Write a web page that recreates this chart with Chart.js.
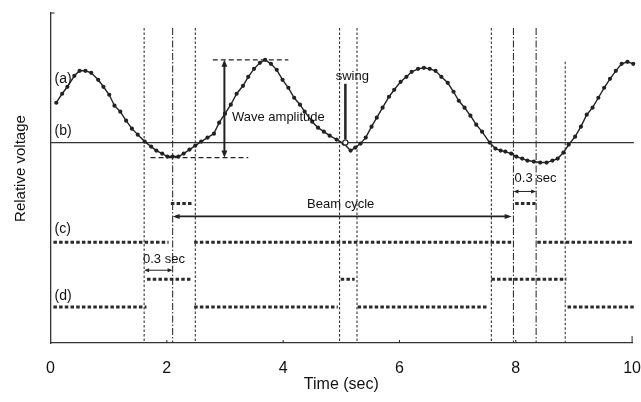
<!DOCTYPE html>
<html>
<head>
<meta charset="utf-8">
<script src="https://cdn.jsdelivr.net/npm/chart.js@4/dist/chart.umd.min.js"></script>
<style>
  body { margin: 0; background: #fff; }
</style>
</head>
<body>
<canvas id="chart" width="641" height="402"></canvas>
<script>
  // wave (a): time (sec) and relative voltage
  const waveTime = [0.10, 0.20, 0.29, 0.41, 0.50, 0.60, 0.70, 0.82, 0.91, 1.01,
    1.10, 1.20, 1.30, 1.40, 1.50, 1.62, 1.73, 1.82, 1.92, 2.01,
    2.10, 2.20, 2.29, 2.39, 2.49, 2.59, 2.70, 2.81, 2.90, 3.00,
    3.10, 3.20, 3.31, 3.40, 3.50, 3.60, 3.69, 3.79, 3.89, 3.99,
    4.09, 4.19, 4.29, 4.37, 4.50, 4.60, 4.70, 4.80, 4.92, 5.04,
    5.16, 5.24, 5.33, 5.42, 5.52, 5.61, 5.71, 5.82, 5.91, 6.02,
    6.12, 6.21, 6.32, 6.42, 6.52, 6.62, 6.72, 6.83, 6.93, 7.02,
    7.12, 7.22, 7.32, 7.42, 7.55, 7.65, 7.74, 7.82, 7.92, 8.01,
    8.11, 8.20, 8.31, 8.42, 8.53, 8.63, 8.72, 8.82, 8.91, 9.02,
    9.12, 9.22, 9.32, 9.42, 9.52, 9.62, 9.72, 9.82, 9.92, 10.02, 10.09];
  const waveValue = [4.0, 4.9, 5.6, 6.7, 7.2, 7.2, 7.0, 6.3, 5.6, 4.8,
    3.7, 3.1, 2.2, 1.4, 0.8, 0.1, -0.4, -0.8, -1.1, -1.4,
    -1.4, -1.4, -1.1, -0.7, -0.3, 0.1, 0.5, 0.9, 2.0, 2.9,
    3.8, 4.9, 5.7, 6.6, 7.4, 8.0, 8.3, 7.9, 7.3, 6.3,
    5.5, 4.5, 3.8, 3.1, 2.1, 1.5, 1.1, 0.7, 0.3, -0.1,
    -0.8, -0.5, -0.1, 0.5, 1.6, 2.5, 3.5, 4.6, 5.3, 6.1,
    6.6, 7.1, 7.4, 7.5, 7.4, 7.2, 6.6, 6.0, 5.1, 4.2,
    3.5, 2.7, 1.8, 1.1, 0.0, -0.6, -0.8, -0.9, -1.1, -1.4,
    -1.6, -1.8, -1.9, -2.0, -2.0, -1.8, -1.6, -1.0, -0.2, 0.6,
    1.6, 2.8, 3.5, 4.5, 5.5, 6.4, 7.2, 7.9, 8.1, 7.9, 7.5];

  // threshold (b)
  const baselineTime = [0, 10.03];
  const baselineValue = [0, 0];

  // gate signal (c): segments
  const cStart = [0.05, 2.07, 2.47, 7.99, 8.37];
  const cEnd   = [2.03, 2.45, 7.93, 8.34, 10.03];
  const cLevel = [-10.0, -6.1, -10.0, -6.1, -10.0];

  // beam signal (d): segments
  const dStart = [0.05, 1.66, 2.47, 4.99, 5.28, 7.58, 8.89];
  const dEnd   = [1.65, 2.44, 4.94, 5.23, 7.51, 8.87, 10.03];
  const dLevel = [-16.5, -13.7, -16.5, -13.7, -16.5, -13.7, -16.5];

  // vertical marker lines
  const dottedTimes = [1.61, 2.49, 4.97, 5.27, 7.58, 8.85];
  const dottedTop   = [11.5, 11.5, 11.5, 11.5, 11.5, 8.1];
  const dashDotTimes = [2.10, 7.96, 8.35];
  const dashDotTop   = [11.5, 11.5, 11.5];

  const xTicks = [0, 2, 4, 6, 8, 10];
  const yMin = -20.1, yMax = 13;

  const ink = '#222';
  const font = '"Liberation Sans", Arial, Helvetica, sans-serif';

  const datasets = [];

  datasets.push({
    label: '(a)',
    data: waveTime.map((t, i) => ({ x: t, y: waveValue[i] })),
    borderColor: ink,
    borderWidth: 1.4,
    pointRadius: 2.1,
    pointBackgroundColor: ink,
    pointBorderWidth: 0,
    clip: false
  });

  datasets.push({
    label: '(b)',
    data: baselineTime.map((t, i) => ({ x: t, y: baselineValue[i] })),
    borderColor: '#333',
    borderWidth: 1.4,
    pointRadius: 0,
    clip: false
  });

  function addSteps(starts, ends, levels, name) {
    starts.forEach((s, i) => {
      datasets.push({
        label: name,
        data: [{ x: s, y: levels[i] }, { x: ends[i], y: levels[i] }],
        borderColor: '#2a2a2a',
        borderWidth: 3,
        borderDash: [3.5, 2.2],
        borderCapStyle: 'butt',
        pointRadius: 0,
        clip: false
      });
    });
  }
  addSteps(cStart, cEnd, cLevel, '(c)');
  addSteps(dStart, dEnd, dLevel, '(d)');

  dottedTimes.forEach((t, i) => {
    datasets.push({
      label: 'marker',
      data: [{ x: t, y: dottedTop[i] }, { x: t, y: yMin }],
      borderColor: '#333',
      borderWidth: 1.1,
      borderDash: [2.5, 2],
      pointRadius: 0
    });
  });
  dashDotTimes.forEach((t, i) => {
    datasets.push({
      label: 'marker',
      data: [{ x: t, y: dashDotTop[i] }, { x: t, y: yMin }],
      borderColor: '#333',
      borderWidth: 1.1,
      borderDash: [7, 2, 1.5, 2],
      pointRadius: 0
    });
  });

  // annotations in data coordinates
  const notes = {
    amplitude: { t: 2.99, top: 8.3, bottom: -1.5, topFrom: 2.79, topTo: 4.09, botFrom: 1.72, botTo: 3.40, textT: 3.12, textV: 2.5 },
    swing: { t: 5.07, from: 5.9, to: 0.0, textT: 5.19, textV: 6.6 },
    beam: { from: 2.10, to: 7.93, v: -7.4, textT: 4.99, textV: -6.2 },
    gapLow: { from: 1.61, to: 2.10, v: -12.8, textT: 1.59, textV: -11.7 },
    gapHigh: { from: 7.96, to: 8.35, v: -4.9, textT: 7.98, textV: -3.6 },
    labels: [['(a)', 6.4], ['(b)', 1.2], ['(c)', -8.7], ['(d)', -15.4]],
    yTitle: { text: 'Relative voltage', v: -2.6 }
  };

  function head(ctx, x, y, ang, len, half) {
    ctx.save();
    ctx.translate(x, y);
    ctx.rotate(ang);
    ctx.beginPath();
    ctx.moveTo(0, 0);
    ctx.lineTo(-len, -half);
    ctx.lineTo(-len, half);
    ctx.closePath();
    ctx.fill();
    ctx.restore();
  }

  function hArrow(ctx, x1, x2, y, w, len, half) {
    ctx.lineWidth = w;
    ctx.setLineDash([]);
    ctx.beginPath();
    ctx.moveTo(x1 + len * 0.5, y);
    ctx.lineTo(x2 - len * 0.5, y);
    ctx.stroke();
    head(ctx, x1, y, Math.PI, len, half);
    head(ctx, x2, y, 0, len, half);
  }

  const overlay = {
    id: 'overlay',
    afterDatasetsDraw(chart) {
      const { ctx, chartArea: a } = chart;
      const X = v => chart.scales.x.getPixelForValue(v);
      const Y = v => chart.scales.y.getPixelForValue(v);
      ctx.save();
      ctx.strokeStyle = ink;
      ctx.fillStyle = ink;

      // small inward ticks on the time axis
      ctx.lineWidth = 1;
      xTicks.slice(1).forEach(v => {
        const len = v === 10 ? 7 : 3;
        ctx.beginPath();
        ctx.moveTo(X(v), a.bottom);
        ctx.lineTo(X(v), a.bottom - len);
        ctx.stroke();
      });
      // top tick of the voltage axis
      ctx.beginPath();
      ctx.moveTo(a.left, a.top);
      ctx.lineTo(a.left + 4, a.top);
      ctx.stroke();

      // wave amplitude
      const am = notes.amplitude;
      ctx.lineWidth = 1.2;
      ctx.setLineDash([5, 3]);
      ctx.beginPath();
      ctx.moveTo(X(am.topFrom), Y(am.top));
      ctx.lineTo(X(am.topTo), Y(am.top));
      ctx.moveTo(X(am.botFrom), Y(am.bottom));
      ctx.lineTo(X(am.botTo), Y(am.bottom));
      ctx.stroke();
      ctx.setLineDash([]);
      ctx.lineWidth = 2;
      ctx.beginPath();
      ctx.moveTo(X(am.t), Y(am.top) + 5);
      ctx.lineTo(X(am.t), Y(am.bottom) - 5);
      ctx.stroke();
      head(ctx, X(am.t), Y(am.top), -Math.PI / 2, 7, 3);
      head(ctx, X(am.t), Y(am.bottom), Math.PI / 2, 7, 3);

      // swing
      const sw = notes.swing;
      ctx.lineWidth = 2.5;
      ctx.beginPath();
      ctx.moveTo(X(sw.t), Y(sw.from));
      ctx.lineTo(X(sw.t), Y(sw.to) - 3);
      ctx.stroke();
      ctx.lineWidth = 1.2;
      ctx.fillStyle = '#fff';
      ctx.beginPath();
      ctx.arc(X(sw.t), Y(sw.to), 2.6, 0, Math.PI * 2);
      ctx.fill();
      ctx.stroke();
      ctx.fillStyle = ink;

      // beam cycle and 0.3 sec arrows
      hArrow(ctx, X(notes.beam.from), X(notes.beam.to), Y(notes.beam.v), 1.6, 7, 2.5);
      hArrow(ctx, X(notes.gapLow.from), X(notes.gapLow.to), Y(notes.gapLow.v), 1, 5, 2);
      hArrow(ctx, X(notes.gapHigh.from), X(notes.gapHigh.to), Y(notes.gapHigh.v), 1, 5, 2);

      // texts
      ctx.fillStyle = '#111';
      ctx.textBaseline = 'middle';
      ctx.font = '13px ' + font;
      ctx.textAlign = 'left';
      ctx.fillText('Wave amplitude', X(am.textT), Y(am.textV));
      ctx.fillText('0.3 sec', X(notes.gapLow.textT), Y(notes.gapLow.textV));
      ctx.fillText('0.3 sec', X(notes.gapHigh.textT), Y(notes.gapHigh.textV));
      ctx.textAlign = 'center';
      ctx.fillText('swing', X(sw.textT), Y(sw.textV));
      ctx.fillText('Beam cycle', X(notes.beam.textT), Y(notes.beam.textV));
      ctx.font = '14px ' + font;
      ctx.textAlign = 'left';
      notes.labels.forEach(([txt, v]) => ctx.fillText(txt, a.left + 4, Y(v)));

      // voltage axis title
      ctx.save();
      ctx.translate(a.left - 30, Y(notes.yTitle.v));
      ctx.rotate(-Math.PI / 2);
      ctx.textAlign = 'center';
      ctx.font = '15px ' + font;
      ctx.fillText(notes.yTitle.text, 0, 0);
      ctx.restore();
      ctx.restore();
    }
  };

  new Chart(document.getElementById('chart'), {
    type: 'line',
    data: { datasets },
    options: {
      responsive: false,
      animation: false,
      devicePixelRatio: 1,
      layout: { padding: { left: 10, top: 13, right: 0, bottom: 5 } },
      plugins: { legend: { display: false }, tooltip: { enabled: false } },
      elements: { line: { tension: 0 } },
      scales: {
        x: {
          type: 'linear',
          min: 0,
          max: 10,
          afterBuildTicks: s => { s.ticks = xTicks.map(v => ({ value: v })); },
          ticks: { padding: 0, color: '#111', font: { family: font, size: 16, lineHeight: 3.25 } },
          grid: { display: false, drawTicks: false },
          border: { display: true, color: '#333', width: 1.3 },
          title: {
            display: true, text: 'Time (sec)', color: '#111',
            font: { family: font, size: 16, lineHeight: 1 },
            padding: { top: -18, bottom: 4 }
          }
        },
        y: {
          type: 'linear',
          min: yMin,
          max: yMax,
          afterFit: s => { s.width = 40.5; },
          ticks: { display: false },
          grid: { display: false, drawTicks: false },
          border: { display: true, color: '#333', width: 1.3 }
        }
      }
    },
    plugins: [overlay]
  });
</script>
</body>
</html>
